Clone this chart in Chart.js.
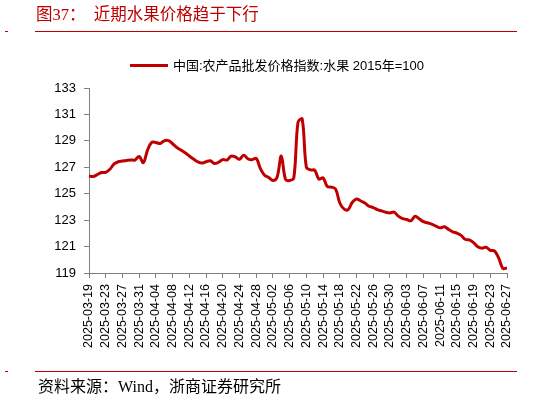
<!DOCTYPE html>
<html>
<head>
<meta charset="utf-8">
<script src="https://cdn.jsdelivr.net/npm/chart.js@4.4.1/dist/chart.umd.min.js"></script>
<style>
  html, body { margin: 0; padding: 0; background: #fff; }
  #page { position: relative; width: 551px; height: 402px; overflow: hidden; }
  #page canvas { position: absolute; left: 0; top: 0; }
  .rule { position: absolute; height: 1px; background: #C00000; }
  .txt { position: absolute; white-space: pre; }
  #title { left: 36px; top: 5px; font: 16.5px/20px "Liberation Serif", "Noto Sans CJK SC", serif; color: #C00000; }
  #legendLine { position: absolute; left: 130px; top: 64px; width: 38px; height: 3px; background: #C00000; }
  #legendText { left: 173px; top: 58px; font: 13px/15px "Liberation Sans", "Noto Sans CJK SC", sans-serif; color: #000; }
  #source { left: 38px; top: 377px; font: 16px/19px "Liberation Serif", "Noto Sans CJK SC", serif; color: #000; }
</style>
</head>
<body>
<div id="page">
  <canvas id="chart" width="551" height="402"></canvas>
  <div class="txt" id="title">图37：  近期水果价格趋于下行</div>
  <div class="rule" style="left:35px; top:31px; width:482px;"></div>
  <div class="rule" style="left:5px; top:31px; width:3px;"></div>
  <div id="legendLine"></div>
  <div class="txt" id="legendText"></div>
  <div class="rule" style="left:35px; top:371px; width:482px;"></div>
  <div class="rule" style="left:5px; top:371px; width:3px;"></div>
  <div class="txt" id="source">资料来源：Wind，浙商证券研究所</div>
</div>
<script>
// series name and y axis range
const seriesName = "中国:农产品批发价格指数:水果 2015年=100";
const yTicks = [119, 121, 123, 125, 127, 129, 131, 133];

// daily dates 2025-03-19 .. 2025-06-27
const dates = [];
for (let i = 0; i <= 100; i++) {
  const d = new Date(Date.UTC(2025, 2, 19 + i));
  dates.push(d.toISOString().slice(0, 10));
}

// fruit wholesale price index
const fruitIndex = [
  126.35, 126.30, 126.45, 126.60, 126.62, 126.85, 127.25, 127.42, 127.47, 127.52,
  127.56, 127.55, 127.82, 127.35, 128.30, 128.88, 128.88, 128.80, 129.00, 129.02,
  128.78, 128.50, 128.30, 128.10, 127.85, 127.62, 127.42, 127.32, 127.42, 127.50,
  127.28, 127.38, 127.58, 127.55, 127.85, 127.78, 127.60, 127.92, 127.65, 127.57,
  127.68, 126.90, 126.40, 126.22, 126.00, 126.25, 127.85, 126.10, 126.00, 126.20,
  130.40, 130.65, 127.00, 126.80, 126.78, 126.10, 126.20, 125.55, 125.50, 125.35,
  124.30, 123.85, 123.80, 124.35, 124.60, 124.45, 124.30, 124.05, 123.95, 123.80,
  123.70, 123.60, 123.55, 123.60, 123.30, 123.12, 123.05, 122.95, 123.30, 123.10,
  122.88, 122.80, 122.70, 122.55, 122.42, 122.50, 122.30, 122.12, 122.02, 121.85,
  121.55, 121.50, 121.30, 120.98, 120.88, 120.95, 120.72, 120.68, 120.15, 119.35,
  119.38
];

document.getElementById("legendText").textContent = seriesName;

const axisGray = "#808080";

new Chart(document.getElementById("chart"), {
  type: "line",
  data: {
    labels: dates,
    datasets: [{
      label: seriesName,
      data: fruitIndex,
      borderColor: "#C00000",
      borderWidth: 3,
      pointRadius: 0,
      tension: 0.35,
      fill: false
    }]
  },
  options: {
    responsive: false,
    animation: false,
    layout: { padding: { left: 0, right: 44, top: 88, bottom: 29 } },
    plugins: { legend: { display: false }, tooltip: { enabled: false } },
    scales: {
      x: {
        afterFit: (s) => { s.height = 100; },
        border: { color: axisGray, width: 1 },
        grid: { drawOnChartArea: false, drawTicks: true, tickLength: 5, color: axisGray },
        ticks: {
          autoSkip: false,
          minRotation: 90,
          maxRotation: 90,
          padding: 6,
          color: "#000",
          font: { family: "Liberation Sans", size: 12.5 },
          callback: (v, i) => (i % 4 === 0 ? dates[i] : null)
        }
      },
      y: {
        min: yTicks[0],
        max: yTicks[yTicks.length - 1],
        afterFit: (s) => { s.width = 89; },
        afterBuildTicks: (s) => { s.ticks = yTicks.map((v) => ({ value: v })); },
        border: { color: axisGray, width: 1 },
        grid: { drawOnChartArea: false, drawTicks: true, tickLength: 5, color: axisGray },
        ticks: {
          padding: 8,
          color: "#000",
          font: { family: "Liberation Sans", size: 13 }
        }
      }
    }
  }
});
</script>
</body>
</html>
